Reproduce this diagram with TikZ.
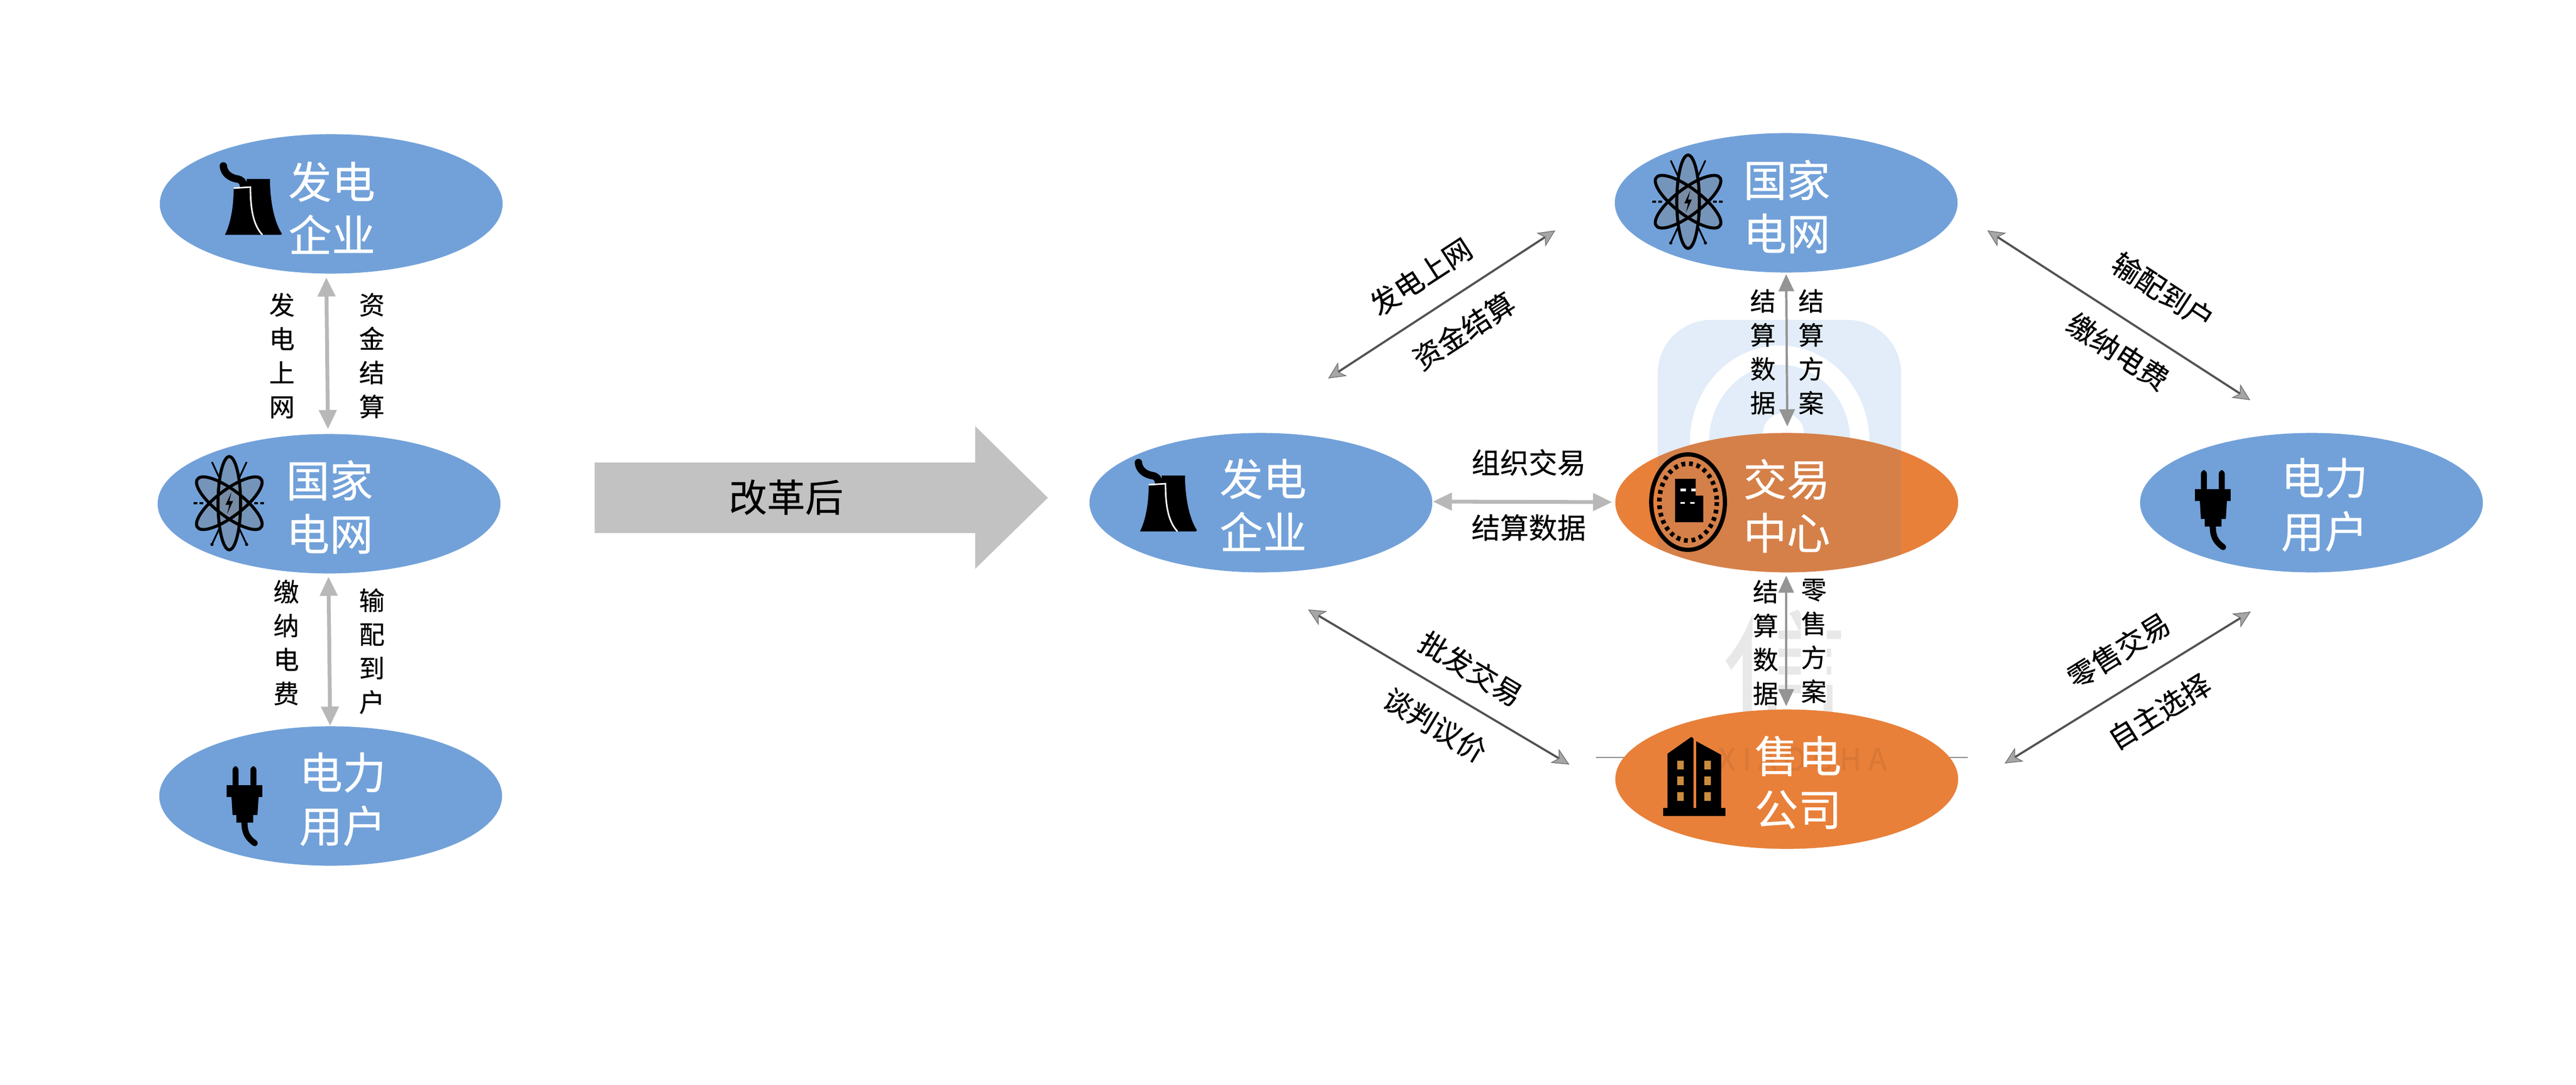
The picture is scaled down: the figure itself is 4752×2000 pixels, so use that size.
\documentclass[tikz,border=0pt]{standalone}
\usepackage{fontspec}
\setmainfont{Noto Sans CJK SC}[FakeBold=0.35]
\usetikzlibrary{shapes.geometric,arrows.meta}
\definecolor{eblue}{HTML}{72A1D9}
\definecolor{eorange}{HTML}{E8803A}
\definecolor{wmblue}{HTML}{E2EDF9}
\definecolor{winamber}{HTML}{CC8C3E}
\tikzset{
  x=0.01cm,y=-0.01cm,
  oval/.style={shape=ellipse,minimum width=6.32cm,minimum height=2.57cm,inner sep=0pt,outer sep=0pt,draw=none},
  blueoval/.style={oval,fill=eblue},
  orangeoval/.style={oval,fill=eorange},
  otext/.style={text=white,align=center,inner sep=0pt,font=\fontsize{22.8}{28}\selectfont},
  vlabel/.style={text=black,align=center,inner sep=0pt,font=\fontsize{13.4}{17.8}\selectfont},
  hlabel/.style={text=black,inner sep=0pt,font=\fontsize{15}{18}\selectfont},
  dlabel/.style={text=black,inner sep=0pt,font=\fontsize{15}{18}\selectfont},
  thickarr/.style={draw=black!28,line width=2pt,{Triangle[length=10pt,width=9pt]}-{Triangle[length=10pt,width=9pt]}},
  thinarr/.style={draw=black!42,line width=1.2pt,{Triangle[length=9pt,width=8pt]}-{Triangle[length=9pt,width=8pt]}},
  diagarr/.style={draw=black!68,line width=1.1pt,
    {Stealth[length=9pt,width=8.5pt,inset=2.5pt,fill=black!35,color=black!55,line width=.4pt]}-{Stealth[length=9pt,width=8.5pt,inset=2.5pt,fill=black!35,color=black!55,line width=.4pt]}},
  tower/.pic={
    \draw[line width=3.9pt,line cap=round,black] (7,8) .. controls (8,22) and (20,30) .. (32,32) .. controls (40,33) and (44,38) .. (44,44);
    \fill[black] (10,135) .. controls (20,115) and (26,85) .. (26,49) -- (50,47) -- (50,32) -- (93,32) .. controls (93,70) and (100,110) .. (115,133) -- (113,135) -- cycle;
    \draw[white,line width=.8pt] (26,49) -- (57,47) .. controls (57,80) and (60,115) .. (79,135);
  },
  atom/.pic={
    \begin{scope}[xscale=.8]
      \foreach \a in {0,60,-60}{
        \fill[rotate=\a,black!45!eblue!70!white,fill opacity=.55] (0,0) ellipse [x radius=26,y radius=86];
      }
      \foreach \a in {0,60,-60}{
        \draw[rotate=\a,black,line width=1.6pt] (0,0) ellipse [x radius=26,y radius=86];
      }
    \end{scope}
    \draw[black,line width=.9pt] (-32,-76) -- (-19,-48) (32,-76) -- (19,-48);
    \draw[black,line width=.9pt] (-32,76) -- (-19,48) (32,76) -- (19,48);
    \fill[black] (-32,76) circle (3) (32,76) circle (3);
    \draw[black,line width=1.2pt,dash pattern=on 2pt off 1pt] (-66,0) -- (-46,0) (46,0) -- (66,0);
    \fill[black] (4,-20) -- (-7,3) -- (0,3) -- (-4,20) -- (7,-4) -- (0,-4) -- cycle;
  },
  plugicon/.pic={
    \fill[black,rounded corners=2pt] (11,0) rectangle (22,40) (44,0) rectangle (55,40);
    \fill[black] (0,35) rectangle (66,57);
    \fill[black] (9,57) -- (59,57) -- (57,90) -- (49,90) -- (49,104) -- (18,104) -- (18,90) -- (11,90) -- cycle;
    \draw[black,line width=3.2pt,line cap=round] (33,104) .. controls (33,122) and (38,132) .. (52,142);
  },
  buildingicon/.pic={
    \fill[black] (8,131) -- (8,31) -- (52,0) -- (56,3) -- (56,131) -- cycle;
    \fill[black] (61,131) -- (61,8) -- (107,33) -- (107,131) -- cycle;
    \fill[black] (0,131) rectangle (115,146);
    \foreach \wx in {32,82}{
      \foreach \wy in {52,81,110}{
        \fill[winamber] (\wx-6,\wy-8) rectangle (\wx+6,\wy+8);
      }
    }
  },
  tradeicon/.pic={
    \draw[black,line width=2.2pt] (0,0) ellipse [x radius=68,y radius=88];
    \draw[black,line width=2.4pt,dash pattern=on 2pt off 2pt] (0,0) ellipse [x radius=53,y radius=71];
    \fill[black] (-24,-43) -- (14,-43) -- (14,-12) -- (28,-12) -- (28,37) -- (-24,37) -- cycle;
    \fill[white] (-14,-25) rectangle (-4,-20) (6,-25) rectangle (14,-20) (-14,0) rectangle (-6,3) (4,0) rectangle (12,3);
  }
}
\begin{document}
\begin{tikzpicture}
\useasboundingbox (0,0) rectangle (4752,2000);
\fill[white] (0,0) rectangle (4752,2000);
% watermark
\fill[wmblue,rounded corners=28] (3058,590) rectangle (3507,1000);
\draw[white,line width=10pt] (3283,815) ellipse [x radius=148,y radius=160];
\fill[white] (3290,800) circle (38);
\node[text=black!9,inner sep=0pt,font=\fontsize{66}{70}\selectfont] (wm) at (3292,1232) {信};
\draw[black!45,line width=.4pt] (2944,1397) -- (3075,1397) (3505,1397) -- (3630,1397);
% left ovals
\node[blueoval] (e1) at (611,376) {};
\node[blueoval] (e2) at (607,929) {};
\node[blueoval] (e3) at (610,1468) {};
% right ovals
\node[blueoval] (e4) at (3295,374) {};
\node[orangeoval] (e5) at (3296,927) {};
\node[orangeoval] (e6) at (3296,1437) {};
\node[blueoval] (e7) at (2326,927) {};
\node[blueoval] (e8) at (4264,927) {};
\begin{scope}
  \clip (3296,927) ellipse [x radius=316,y radius=128.5];
  \fill[blue!50!cyan,fill opacity=.08] (3058,780) rectangle (3507,1060);
\end{scope}
\node[text=black,opacity=.06,inner sep=0pt,font=\fontsize{16}{18}\selectfont] (wmt) at (3325,1400) {X I A O C H A};
% icons
\pic at (405,298) {tower};
\pic at (2093,845) {tower};
\pic at (423,928) {atom};
\pic at (3114,372) {atom};
\pic at (418,1413) {plugicon};
\pic at (4049,867) {plugicon};
\pic at (3068,1359) {buildingicon};
\pic at (3114,926) {tradeicon};
% oval texts
\node[otext] (t1) at (612,383) {发电\\企业};
\node[otext] (t2) at (608,935) {国家\\电网};
\node[otext] (t3) at (632,1474) {电力\\用户};
\node[otext] (t4) at (3296,381) {国家\\电网};
\node[otext] (t5) at (3296,933) {交易\\中心};
\node[otext] (t6) at (3317,1443) {售电\\公司};
\node[otext] (t7) at (2330,931) {发电\\企业};
\node[otext] (t8) at (4288,931) {电力\\用户};
% big arrow
\fill[black!24] (1097,853) -- (1799,853) -- (1799,786) -- (1933,918) -- (1799,1049) -- (1799,983) -- (1097,983) -- cycle;
\node[text=black,inner sep=0pt,font=\fontsize{20}{24}\selectfont] (reform) at (1450,917) {改革后};
% left vertical labels
\node[vlabel] (l1) at (520,656) {发\\电\\上\\网};
\node[vlabel] (l2) at (686,656) {资\\金\\结\\算};
\node[vlabel] (l3) at (528,1185) {缴\\纳\\电\\费};
\node[vlabel] (l4) at (686,1201) {输\\配\\到\\户};
% centre vertical labels
\node[vlabel] (l5) at (3252,649) {结\\算\\数\\据};
\node[vlabel] (l6) at (3341,649) {结\\算\\方\\案};
\node[vlabel,fill=white] (l7) at (3257,1185) {结\\算\\数\\据};
\node[vlabel,fill=white] (l8) at (3346,1182) {零\\售\\方\\案};
% horizontal labels
\node[hlabel] (h1) at (2820,853) {组织交易};
\node[hlabel] (h2) at (2820,973) {结算数据};
% diagonal labels
\node[dlabel,rotate=33] (d1) at (2621,510) {发电上网};
\node[dlabel,rotate=33] (d2) at (2700,610) {资金结算};
\node[dlabel,rotate=-33] (d3) at (3990,537) {输配到户};
\node[dlabel,rotate=-33] (d4) at (3907,648) {缴纳电费};
\node[dlabel,rotate=-31] (d5) at (2713,1233) {批发交易};
\node[dlabel,rotate=-31] (d6) at (2647,1337) {谈判议价};
\node[dlabel,rotate=32] (d7) at (3908,1200) {零售交易};
\node[dlabel,rotate=32] (d8) at (3983,1312) {自主选择};
% connectors
\draw[thickarr] ([shift={(-9,7)}]e1.south) -- ([shift={(-2,-9)}]e2.north);
\draw[thickarr] ([shift={(-1,6)}]e2.south) -- ([shift={(-1,-1)}]e3.north);
\draw[thickarr] ([shift={(1,-2)}]e7.east) -- ([shift={(-6,-1)}]e5.west);
\draw[thinarr] ([shift={(0,3)}]e4.south) -- ([shift={(1,-12)}]e5.north);
\draw[thinarr] ([shift={(-1,6)}]e5.south) -- ([shift={(-1,-6)}]e6.north);
\coordinate (a1) at (2450,698);
\coordinate (a2) at (2869,425);
\coordinate (a3) at (3666,425);
\coordinate (a4) at (4151,738);
\coordinate (a5) at (2413,1124);
\coordinate (a6) at (2895,1410);
\coordinate (a7) at (4152,1128);
\coordinate (a8) at (3698,1408);
\draw[diagarr] (a1) -- (a2);
\draw[diagarr] (a3) -- (a4);
\draw[diagarr] (a5) -- (a6);
\draw[diagarr] (a7) -- (a8);
\end{tikzpicture}
\end{document}
